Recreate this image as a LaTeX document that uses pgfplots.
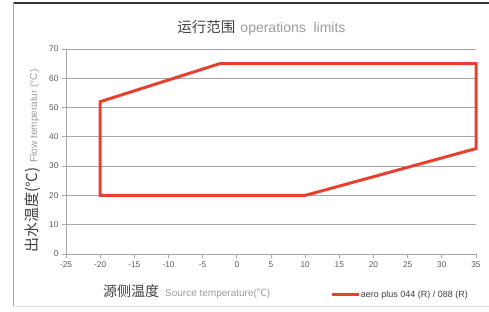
\documentclass[border=0pt]{standalone}
\usepackage{pgfplots}
\pgfplotsset{compat=1.18}
\usepackage{fontspec}
\setmainfont{Liberation Sans}
\newfontfamily\cjk{Noto Sans CJK SC}
\definecolor{redline}{HTML}{E8402F}
\definecolor{gridc}{HTML}{A8A8A8}
\definecolor{labc}{HTML}{595959}
\definecolor{darkc}{HTML}{404040}
\definecolor{lightc}{HTML}{9C9C9C}
\begin{document}
\begin{tikzpicture}[x=1pt,y=1pt]
\path[use as bounding box] (0,0) rectangle (489,312);
\draw[black!80, line width=1.2pt] (13,309) -- (489,309);
\draw[gray!70, line width=1pt] (13,309.6) -- (13,5);
\draw[gray!25, line width=1pt] (13,5) -- (489,5);
\begin{axis}[
  at={(66pt,58pt)}, anchor=south west,
  width=410pt, height=205pt, scale only axis,
  xmin=-25, xmax=35, ymin=0, ymax=70,
  xtick={-25,-20,...,35}, ytick={0,10,...,70},
  axis x line*=bottom, axis y line*=left,
  axis line style={-, gridc, line width=0.8pt},
  ymajorgrids, grid style={gridc, line width=0.8pt},
  tick align=outside, major tick length=4pt,
  tick style={gridc, line width=0.8pt},
  /pgf/number format/assume math mode=true,
  ticklabel style={font=\fontsize{8.3}{9}\selectfont, text=labc},
  clip=false,
  legend style={draw=none, fill=none, at={(0.993,-0.2)}, anchor=east,
    font=\fontsize{9}{10}\selectfont, text=darkc},
  legend image code/.code={\draw[#1] (0pt,0pt) -- (24pt,0pt);},
]
\addplot[redline, line width=3pt, line cap=rect, line join=miter] coordinates {
(-20,20) (-20,52) (-2.5,65) (35,65) (35,36) (10,20) (-20,20)
};
\addlegendentry{aero plus 044 (R) / 088 (R)}
\end{axis}
\node[anchor=base, inner sep=0pt] at (261.5,279) {{\cjk\fontsize{14.5}{14.5}\selectfont\color{darkc}运行范围}\hspace{5pt}{\fontsize{14}{14}\selectfont\color{lightc}operations\ \ limits}};
\node[anchor=base west, inner sep=0pt] at (103,15) {{\cjk\fontsize{14}{14}\selectfont\color{darkc}源侧温度}\hspace{6pt}{\fontsize{10}{10}\selectfont\color{lightc}Source temperature({\cjk ℃})}};
\node[anchor=base west, inner sep=0pt, rotate=90] at (37,59) {{\cjk\fontsize{15}{15}\selectfont\color{darkc}出水温度(°C)}\hspace{5pt}{\fontsize{10}{10}\selectfont\color{lightc}Flow temperatur (°C)}};
\end{tikzpicture}
\end{document}
